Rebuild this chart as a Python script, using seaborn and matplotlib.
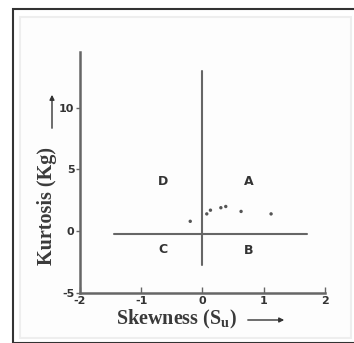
import matplotlib
matplotlib.use("Agg")
import matplotlib.pyplot as plt
from matplotlib.patches import Rectangle, FancyArrowPatch
import seaborn as sns
import pandas as pd

# skewness / kurtosis values
skewness = [-0.20, 0.07, 0.13, 0.30, 0.38, 0.63, 1.12]
kurtosis = [0.8, 1.4, 1.7, 1.9, 2.0, 1.6, 1.4]

# quadrant divider lines
vline_x = [0.0, 0.0]
vline_y = [-2.7, 13.0]
hline_x = [-1.45, 1.7]
hline_y = [-0.2, -0.2]

quad_labels = ["A", "B", "C", "D"]
quad_x = [0.75, 0.75, -0.65, -0.65]
quad_y = [4.0, -1.6, -1.5, 4.0]

x_ticks = [-2, -1, 0, 1, 2]
y_ticks = [-5, 0, 5, 10]

df = pd.DataFrame({"Skewness": skewness, "Kurtosis": kurtosis})

sns.set_style("white")
plt.rcParams["mathtext.fontset"] = "custom"
plt.rcParams["mathtext.rm"] = "Liberation Serif"
plt.rcParams["mathtext.bf"] = "Liberation Serif:bold"

fig = plt.figure(figsize=(3.54, 3.43), dpi=100)

# picture frame
fig.patches.append(Rectangle((13 / 354, 0), 1, 1 - 9 / 343, transform=fig.transFigure,
                             fill=False, edgecolor="#333333", linewidth=1.5, zorder=-10))
fig.patches.append(Rectangle((20 / 354, 5 / 343), 331 / 354, 1 - 22 / 343, transform=fig.transFigure,
                             facecolor="#fdfdfd", edgecolor="#eeeeee", linewidth=1.5, zorder=-10))

ax = fig.add_axes([0.226, 0.146, 0.692, 0.702])
ax.set_zorder(5)
ax.patch.set_alpha(0)

line_col = "#666666"
sns.lineplot(x=vline_x, y=vline_y, color=line_col, linewidth=1.5, estimator=None, sort=False, ax=ax)
sns.lineplot(x=hline_x, y=hline_y, color=line_col, linewidth=1.5, estimator=None, sort=False, ax=ax)
sns.scatterplot(data=df, x="Skewness", y="Kurtosis", color="#555555", s=6, edgecolor="none", ax=ax)

for lab, qx, qy in zip(quad_labels, quad_x, quad_y):
    ax.text(qx, qy, lab, ha="center", va="center", fontsize=9, fontweight="bold", color="#333333")

ax.set_xlim(-2, 2)
ax.set_ylim(-5, 14.5)
ax.set_xticks(x_ticks)
ax.set_yticks(y_ticks)
ax.set_xticklabels([str(t) for t in x_ticks])
ax.set_yticklabels([str(t) for t in y_ticks])
ax.tick_params(axis="x", bottom=True, direction="in", length=4, width=1, color=line_col, labelsize=8, pad=2)
ax.tick_params(axis="y", left=True, direction="out", length=3, width=1, color=line_col, labelsize=8, pad=1)
for lab in ax.get_xticklabels() + ax.get_yticklabels():
    lab.set_fontweight("bold")
    lab.set_color("#333333")

sns.despine(ax=ax)
for side in ["left", "bottom"]:
    ax.spines[side].set_color(line_col)
    ax.spines[side].set_linewidth(1.8)
ax.set_xlabel("")
ax.set_ylabel("")

# axis titles with arrows
fig.text(176 / 354, 1 - 319 / 343, r"Skewness (S$_\mathbf{u}$)", ha="center", va="center",
         fontsize=14.5, fontweight="bold", family="Liberation Serif", color="#3a3a3a")
fig.text(47 / 354, 1 - 206 / 343, "Kurtosis (Kg)", ha="center", va="center", rotation=90,
         fontsize=14.5, fontweight="bold", family="Liberation Serif", color="#3a3a3a")
fig.add_artist(FancyArrowPatch((245 / 354, 1 - 320 / 343), (287 / 354, 1 - 320 / 343),
               transform=fig.transFigure, arrowstyle="-|>", mutation_scale=7, color="#333333", linewidth=1))
fig.add_artist(FancyArrowPatch((52 / 354, 1 - 131 / 343), (52 / 354, 1 - 92 / 343),
               transform=fig.transFigure, arrowstyle="-|>", mutation_scale=7, color="#333333", linewidth=1))

fig.savefig("out.png", dpi=100)
